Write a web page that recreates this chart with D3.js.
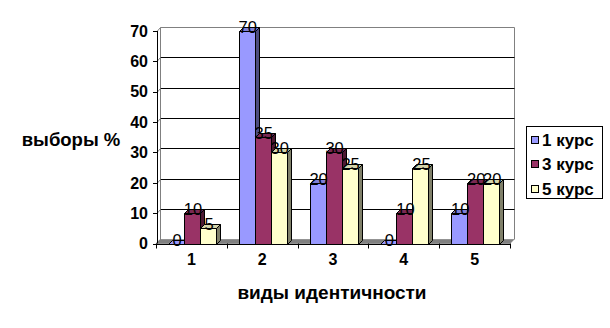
<!DOCTYPE html>
<html><head><meta charset="utf-8">
<script src="https://cdn.jsdelivr.net/npm/d3@7"></script>
<style>
html,body{margin:0;padding:0;background:#fff;}
svg{display:block;font-family:"Liberation Sans",Arial,sans-serif;}
</style></head>
<body><svg id="c" width="610" height="328"></svg>
<script>
const categories = ["1","2","3","4","5"];
const seriesNames = ["1 курс","3 курс","5 курс"];
const kurs1 = [0,70,20,0,10];
const kurs3 = [10,35,30,10,20];
const kurs5 = [5,30,25,25,20];
const yTicks = [0,10,20,30,40,50,60,70];
const colors = ["#9999FF","#993366","#FFFFCC"];
const sideColors = ["#4C4C80","#4C1933","#80806A"];
const topColors = ["#7F7FD6","#7A2952","#D4D4AA"];
const yTitle = "выборы %";
const xTitle = "виды идентичности";

const series = [kurs1,kurs3,kurs5];
const svg = d3.select("#c");
const DX = 4, DY = -4;
const x = d3.scaleBand().domain(categories).range([156, 510]).paddingInner(0).paddingOuter(0);
const xs = d3.scaleBand().domain(seriesNames).range([12, 60]);
const y = d3.scaleLinear().domain([0,70]).range([243.5, 31]);
const xL = x.range()[0], xR = x.range()[1];
const y0 = y(0), yTop = y(70);

// back wall
const bw = svg.append("g");
bw.append("path").attr("d",`M${xL+DX+0.5},${y0+DY}V${yTop+DY+0.5}H${xR+DX+0.5}V${y0+DY}`)
  .attr("fill","#fff").attr("stroke","#808080");
yTicks.filter(v=>v>0 && v<70).forEach(v=>{
  const yy = Math.round(y(v)+DY)+0.5;
  bw.append("line").attr("x1",xL+DX+0.5).attr("x2",xR+DX+0.5).attr("y1",yy).attr("y2",yy).attr("stroke","#000");
  bw.append("line").attr("x1",xL+1).attr("x2",xL+DX+0.5).attr("y1",Math.round(y(v))+0.5).attr("y2",yy).attr("stroke","#808080");
});
bw.append("line").attr("x1",xL+1).attr("x2",xL+DX+0.5).attr("y1",Math.round(yTop)+0.5).attr("y2",yTop+DY+0.5).attr("stroke","#808080");
// floor
svg.append("path").attr("d",`M${xL},${y0}L${xL+DX},${y0+DY}L${xR+DX},${y0+DY}L${xR},${y0}Z`)
  .attr("fill","#808080").attr("stroke","#666").attr("stroke-width",0.5);

// bars
const bars = svg.append("g");
categories.forEach((c,ci)=>{
  series.forEach((s,si)=>{
    const v = s[ci];
    const bx = Math.round(x(c)+xs(seriesNames[si]))+0.5;
    const w = Math.round(xs.bandwidth());
    const top = Math.round(y(v))+0.5;
    const bot = Math.round(y0)+0.5;
    const g = bars.append("g").attr("stroke","#000").attr("stroke-width",1).attr("stroke-linejoin","round");
    if (v>0) {
      g.append("path").attr("d",`M${bx+w},${bot}L${bx+w+DX},${bot+DY}L${bx+w+DX},${top+DY}L${bx+w},${top}Z`).attr("fill",sideColors[si]);
      g.append("rect").attr("x",bx).attr("y",top).attr("width",w).attr("height",bot-top).attr("fill",colors[si]);
    }
    g.append("path").attr("d",`M${bx},${top}L${bx+DX},${top+DY}L${bx+w+DX},${top+DY}L${bx+w},${top}Z`).attr("fill",v>0?topColors[si]:colors[si]);
  });
});

// y axis
const ya = svg.append("g");
ya.append("line").attr("x1",xL+1.5).attr("x2",xL+1.5).attr("y1",y0).attr("y2",yTop).attr("stroke","#000");
yTicks.forEach(v=>{
  const yy = Math.round(y(v))+0.5;
  ya.append("line").attr("x1",xL-3).attr("x2",xL+1.5).attr("y1",yy).attr("y2",yy).attr("stroke","#000");
  ya.append("text").attr("x",xL-8).attr("y",y(v)).attr("dy","0.36em").attr("text-anchor","end")
    .attr("font-size",16).attr("font-weight","bold").text(v);
});
// x axis
const xa = svg.append("g");
xa.append("line").attr("x1",xL).attr("x2",xR).attr("y1",Math.round(y0)+0.5).attr("y2",Math.round(y0)+0.5).attr("stroke","#000");
categories.concat(["end"]).forEach((c,i)=>{
  const xx = Math.round(c==="end"?xR:x(c))+0.5;
  xa.append("line").attr("x1",xx).attr("x2",xx).attr("y1",y0).attr("y2",y0+5).attr("stroke","#000");
});
categories.forEach(c=>{
  xa.append("text").attr("x",x(c)+x.bandwidth()/2).attr("y",265).attr("text-anchor","middle")
    .attr("font-size",16).attr("font-weight","bold").text(c);
});

// data labels
const lab = svg.append("g");
categories.forEach((c,ci)=>{
  series.forEach((s,si)=>{
    const v = s[ci];
    const bx = x(c)+xs(seriesNames[si]);
    lab.append("text").attr("x",bx+xs.bandwidth()/2+1).attr("y",y(v)+2).attr("text-anchor","middle")
      .attr("font-size",16.5).attr("fill","#000").text(v);
  });
});

// titles
svg.append("text").attr("x",71).attr("y",146).attr("text-anchor","middle").attr("font-size",18.5).attr("font-weight","bold").text(yTitle);
svg.append("text").attr("x",332).attr("y",299).attr("text-anchor","middle").attr("font-size",19).attr("font-weight","bold").text(xTitle);

// legend
const lg = svg.append("g");
lg.append("rect").attr("x",526.5).attr("y",126.5).attr("width",76).attr("height",72).attr("fill","#fff").attr("stroke","#000");
seriesNames.forEach((n,i)=>{
  const cy = 139.5 + i*24.5;
  lg.append("rect").attr("x",531.5).attr("y",Math.round(cy-4)+0.5).attr("width",7).attr("height",7).attr("fill",colors[i]).attr("stroke","#000");
  lg.append("text").attr("x",542).attr("y",cy).attr("dy","0.36em").attr("font-size",17).attr("font-weight","bold").text(n);
});
</script></body></html>
